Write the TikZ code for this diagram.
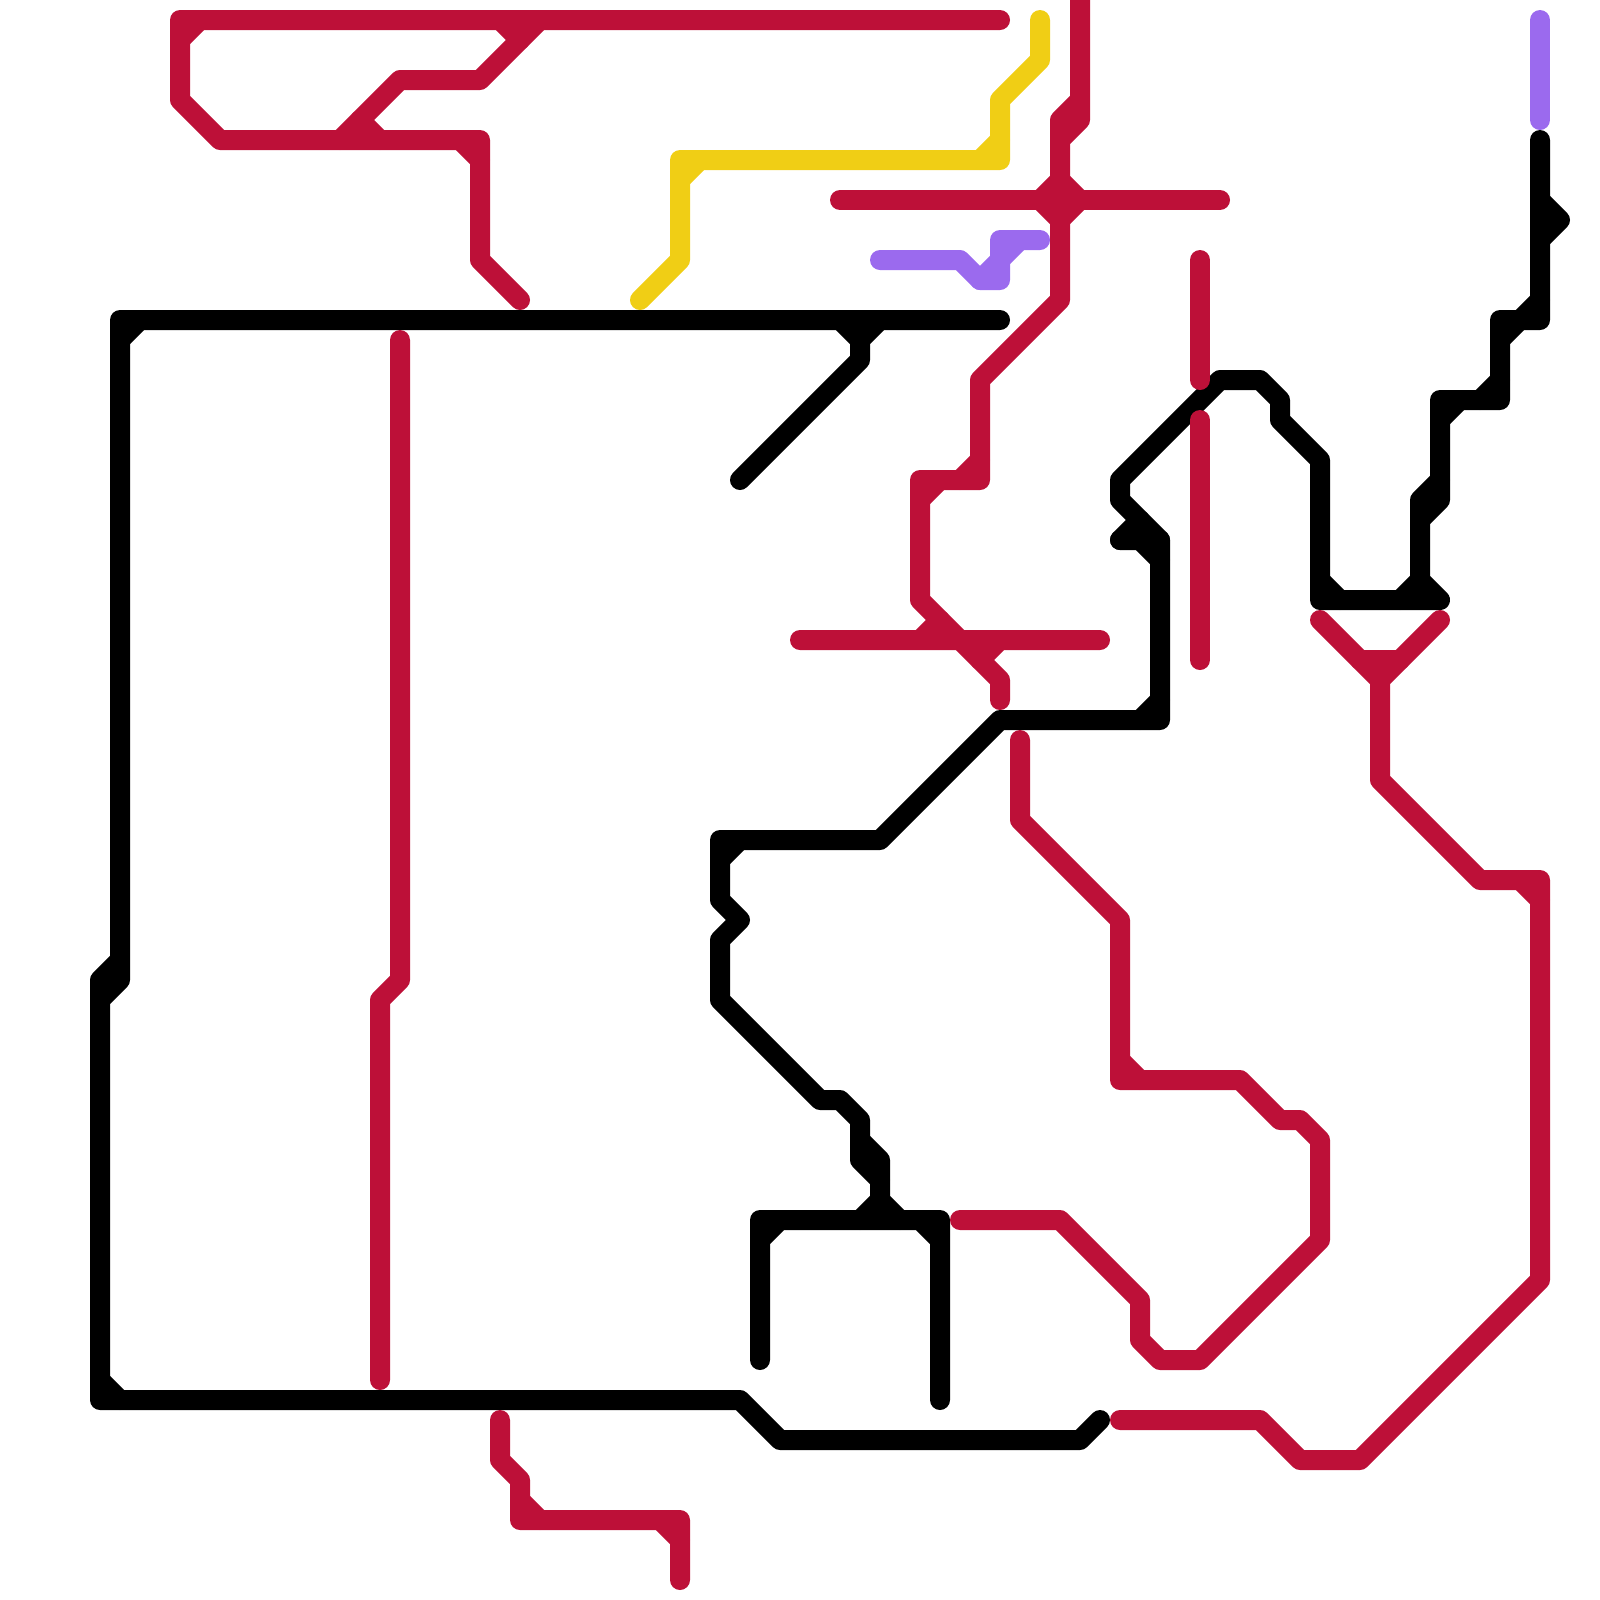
\documentclass[tikz,border=0pt]{standalone}
\definecolor{linered}{HTML}{BD1038}
\definecolor{lineyellow}{HTML}{F0CE15}
\definecolor{linepurple}{HTML}{9B6AEE}
\tikzset{
 route/.style={line width=2.5mm,line cap=round,line join=round},
 blackroute/.style={route,black},
 redroute/.style={route,linered},
 yellowroute/.style={route,lineyellow},
 purpleroute/.style={route,linepurple}
}
\begin{document}
\begin{tikzpicture}[x=0.25cm,y=-0.25cm]
 \useasboundingbox (0,0) rectangle (80,80);
 % black lines
 \draw[blackroute] (50,16)--(6,16)--(6,49)--(5,50) (6,48)--(5,49)--(5,70)--(37,70)--(39,72)--(54,72)--(55,71);
 \draw[blackroute] (6,17)--(7,16) (5,69)--(6,70);
 \draw[blackroute] (42,16)--(43,17)--(44,16) (43,17)--(43,18)--(37,24);
 \draw[blackroute] (56,27)--(58,27)--(58,36)--(50,36)--(44,42)--(36,42)--(36,45)--(37,46)--(36,47)--(36,50)--(41,55)--(42,55)--(43,56)--(43,58)--(44,59);
 \draw[blackroute] (56,27)--(57,26) (57,27)--(58,28) (57,36)--(58,35) (36,43)--(37,42) (43,57)--(44,58)--(44,60)--(45,61) (43,61)--(44,60);
 \draw[blackroute] (38,68)--(38,61)--(47,61)--(47,70) (38,62)--(39,61) (46,61)--(47,62);
 \draw[blackroute] (58,27)--(56,25)--(56,24)--(61,19)--(63,19)--(64,20)--(64,21)--(66,23)--(66,30)--(72,30)--(71,29)--(71,25)--(72,24);
 \draw[blackroute] (66,29)--(67,30) (70,30)--(71,29);
 \draw[blackroute] (71,26)--(72,25)--(72,20)--(75,20)--(75,16)--(77,16)--(77,7);
 \draw[blackroute] (72,21)--(73,20) (74,20)--(75,19) (75,17)--(76,16) (76,16)--(77,15);
 \draw[blackroute] (77,10)--(78,11)--(77,12);
 % red lines
 \draw[redroute] (50,1)--(9,1)--(9,5)--(11,7)--(24,7)--(24,13)--(26,15);
 \draw[redroute] (17,7)--(20,4)--(24,4)--(27,1);
 \draw[redroute] (9,2)--(10,1) (25,1)--(26,2) (18,6)--(19,7) (23,7)--(24,8);
 \draw[redroute] (54,0)--(54,6)--(53,7) (54,5)--(53,6)--(53,15)--(49,19)--(49,24)--(46,24)--(46,30)--(50,34)--(50,35);
 \draw[redroute] (48,24)--(49,23) (46,25)--(47,24);
 \draw[redroute] (42,10)--(61,10);
 \draw[redroute] (52,10)--(53,9)--(54,10)--(53,11)--cycle;
 \draw[redroute] (40,32)--(55,32) (46,32)--(47,31) (49,33)--(50,32);
 \draw[redroute] (60,13)--(60,19) (60,21)--(60,33);
 \draw[redroute] (20,17)--(20,49)--(19,50)--(19,69);
 \draw[redroute] (51,37)--(51,41)--(56,46)--(56,54)--(62,54)--(64,56)--(65,56)--(66,57)--(66,62)--(60,68)--(58,68)--(57,67)--(57,65)--(53,61)--(48,61);
 \draw[redroute] (56,53)--(57,54);
 \draw[redroute] (56,71)--(63,71)--(65,73)--(68,73)--(77,64)--(77,44)--(74,44)--(69,39)--(69,34)--(66,31) (69,34)--(72,31);
 \draw[redroute] (68,33)--(70,33) (76,44)--(77,45);
 \draw[redroute] (25,71)--(25,73)--(26,74)--(26,76)--(34,76)--(34,79);
 \draw[redroute] (26,75)--(27,76) (33,76)--(34,77);
 % yellow line
 \draw[yellowroute] (52,1)--(52,3)--(50,5)--(50,8)--(34,8)--(34,13)--(32,15);
 \draw[yellowroute] (49,8)--(50,7) (34,9)--(35,8);
 % purple lines
 \draw[purpleroute] (44,13)--(48,13)--(49,14)--(50,14)--(50,12)--(52,12);
 \draw[purpleroute] (49,14)--(51,12);
 \draw[purpleroute] (77,1)--(77,6);
\end{tikzpicture}
\end{document}
